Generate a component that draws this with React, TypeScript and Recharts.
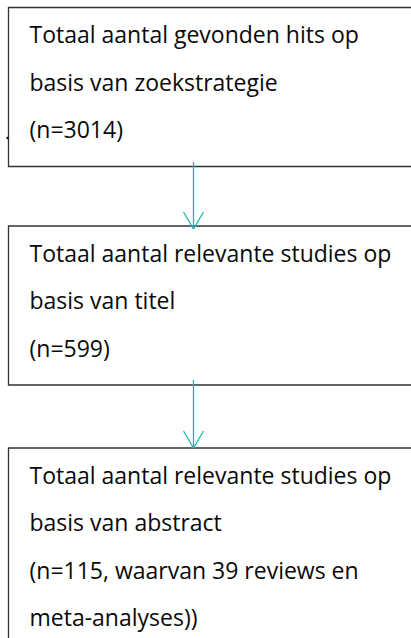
import React from 'react';
import { ComposedChart, XAxis, YAxis, ReferenceArea, ReferenceLine, ReferenceDot } from 'recharts';

const stepTitles = [
  ['Totaal aantal gevonden hits op', 'basis van zoekstrategie'],
  ['Totaal aantal relevante studies op', 'basis van titel'],
  ['Totaal aantal relevante studies op', 'basis van abstract'],
];
const stepCounts = [3014, 599, 115];
const stepNotes = ['', '', ', waarvan 39 reviews en'];
const stepTails = ['', '', 'meta-analyses))'];

const W = 411;
const H = 638;
const TEAL = '#22b5ae';
const BORDER = '#333333';
const FONT = '"Open Sans", "Noto Sans", sans-serif';

const boxes = [
  { x1: 8.5, y1: 7.5, y2: 166.5 },
  { x1: 8.5, y1: 226, y2: 385 },
  { x1: 8.5, y1: 448, y2: 700 },
];

function buildLines(i: number): string[] {
  const lines = [...stepTitles[i]];
  lines.push(`(n=${stepCounts[i]}${stepNotes[i]}${stepNotes[i] ? '' : ')'}`);
  if (stepTails[i]) lines.push(stepTails[i]);
  return lines;
}

const makeLabel = (i: number) => (props: any) => {
  const vb = props.viewBox || {};
  const lines = buildLines(i);
  return (
    <g>
      {lines.map((t, k) => (
        <text
          key={k}
          x={(vb.x ?? 0) + 21}
          y={(vb.y ?? 0) + 35.5 + k * 47.5}
          fontFamily={FONT}
          fontSize={23}
          fill="#0a0a0a"
          style={{ fontSize: '23px' }}
        >
          {t}
        </text>
      ))}
    </g>
  );
};

export default function App() {
  const arrows = [
    { x: 193.5, y1: 162, y2: 229 },
    { x: 193.5, y1: 380, y2: 448 },
  ];
  return (
    <div style={{ position: 'absolute', left: 0, top: 0, background: '#fff' }}>
      <ComposedChart width={W} height={H} data={[{ x: 0, y: 0 }]} margin={{ top: 0, right: 0, bottom: 0, left: 0 }}>
        <XAxis type="number" dataKey="x" domain={[0, W]} hide allowDataOverflow />
        <YAxis type="number" dataKey="y" domain={[0, H]} reversed hide allowDataOverflow />
        {boxes.map((b, i) => (
          <ReferenceArea
            key={`b${i}`}
            x1={b.x1}
            x2={W + 20}
            y1={b.y1}
            y2={b.y2}
            ifOverflow="visible"
            fill="#ffffff"
            fillOpacity={1}
            stroke={BORDER}
            strokeWidth={1.3}
            label={makeLabel(i)}
          />
        ))}
        {arrows.map((a, i) => (
          <ReferenceLine
            key={`l${i}`}
            segment={[{ x: a.x, y: a.y1 }, { x: a.x, y: a.y2 }]}
            stroke={TEAL}
            strokeWidth={1.3}
            ifOverflow="visible"
          />
        ))}
        {arrows.map((a, i) => (
          <ReferenceLine
            key={`hl${i}`}
            segment={[{ x: a.x - 10, y: a.y2 - 17 }, { x: a.x, y: a.y2 }]}
            stroke={TEAL}
            strokeWidth={1.3}
            ifOverflow="visible"
          />
        ))}
        {arrows.map((a, i) => (
          <ReferenceLine
            key={`hr${i}`}
            segment={[{ x: a.x + 10, y: a.y2 - 17 }, { x: a.x, y: a.y2 }]}
            stroke={TEAL}
            strokeWidth={1.3}
            ifOverflow="visible"
          />
        ))}
        <ReferenceDot x={7.5} y={138} r={1.2} fill="#111" stroke="none" ifOverflow="visible" />
      </ComposedChart>
    </div>
  );
}
